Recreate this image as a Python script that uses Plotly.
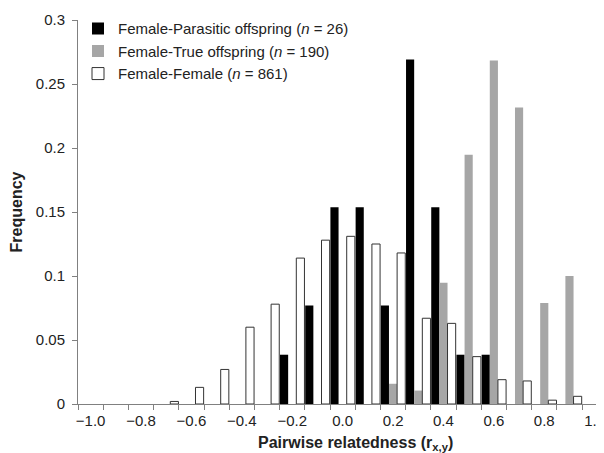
import plotly.graph_objects as go

categories = [-1.0, -0.9, -0.8, -0.7, -0.6, -0.5, -0.4, -0.3, -0.2, -0.1, 0.0,
              0.1, 0.2, 0.3, 0.4, 0.5, 0.6, 0.7, 0.8, 0.9, 1.0]
parasitic = [0, 0, 0, 0, 0, 0, 0, 0, 0.0385, 0.0769, 0.1538,
             0.1538, 0.0769, 0.2692, 0.1538, 0.0385, 0.0385, 0, 0, 0, 0]
true_off = [0, 0, 0, 0, 0, 0, 0, 0, 0, 0, 0,
            0, 0.0158, 0.0105, 0.0947, 0.1947, 0.2684, 0.2316, 0.0789, 0.1, 0]
female = [0, 0, 0, 0.002, 0.013, 0.027, 0.060, 0.078, 0.114, 0.128, 0.131,
          0.125, 0.118, 0.067, 0.063, 0.037, 0.019, 0.018, 0.003, 0.006, 0]
names = ["Female-Parasitic offspring (<i>n</i> = 26)",
         "Female-True offspring (<i>n</i> = 190)",
         "Female-Female (<i>n</i> = 861)"]
tick_vals = [-1.0, -0.8, -0.6, -0.4, -0.2, 0.0, 0.2, 0.4, 0.6, 0.8, 1.0]
tick_text = ["\u22121.0", "\u22120.8", "\u22120.6", "\u22120.4", "\u22120.2",
             "0.0", "0.2", "0.4", "0.6", "0.8", "1.0"]
y_ticks = [0, 0.05, 0.1, 0.15, 0.2, 0.25, 0.3]
y_text = ["0", "0.05", "0.1", "0.15", "0.2", "0.25", "0.3"]
boundaries = [round(c - 0.05, 2) for c in categories] + [1.05]


def drop_zero(vals):
    return [v if v else None for v in vals]


FONT = "Liberation Sans, Arial, sans-serif"
TXT = "#222222"

fig = go.Figure()
fig.add_trace(go.Bar(x=categories, y=drop_zero(parasitic), name=names[0],
                     marker=dict(color="#000000", line=dict(width=0))))
fig.add_trace(go.Bar(x=categories, y=drop_zero(true_off), name=names[1],
                     marker=dict(color="#a6a6a6", line=dict(width=0))))
fig.add_trace(go.Bar(x=categories, y=drop_zero(female), name=names[2],
                     marker=dict(color="#ffffff", line=dict(color="#333333", width=1))))

fig.update_layout(
    width=604, height=453,
    margin=dict(l=70, r=8, t=12, b=57, autoexpand=False),
    paper_bgcolor="white", plot_bgcolor="white",
    barmode="group", bargap=0.03, bargroupgap=0,
    font=dict(family=FONT, size=15, color=TXT),
    showlegend=True,
    legend=dict(x=0.0, y=1.02, xanchor="left", yanchor="top",
                bgcolor="rgba(0,0,0,0)", itemwidth=30,
                font=dict(family=FONT, size=15, color=TXT),
                tracegroupgap=0),
    xaxis=dict(range=[-1.05, 1.037], showgrid=False, zeroline=False,
               automargin=False,
               showline=True, linecolor="#808080", linewidth=1,
               tickmode="array", tickvals=tick_vals, ticktext=tick_text,
               ticks="", ticklen=5, ticklabelstandoff=3,
               ticklabeloverflow="allow",
               tickfont=dict(family=FONT, size=15, color=TXT),
               minor=dict(tickmode="array", tickvals=boundaries, ticks="outside",
                          ticklen=5, tickcolor="#808080", showgrid=False)),
    yaxis=dict(range=[0, 0.3], showgrid=False, zeroline=False,
               automargin=False,
               showline=True, linecolor="#808080", linewidth=1,
               tickmode="array", tickvals=y_ticks, ticktext=y_text,
               ticks="outside", ticklen=5, tickcolor="#808080",
               ticklabelstandoff=4,
               tickfont=dict(family=FONT, size=15, color=TXT),
               title=dict(text="<b>Frequency</b>", standoff=10,
                          font=dict(family=FONT, size=16, color=TXT))),
)
fig.add_annotation(text="<b>Pairwise relatedness (r<sub>x,y</sub>)</b>",
                   xref="paper", yref="paper",
                   x=(355 - 78) / 526, y=-0.072, yanchor="top", xanchor="center",
                   showarrow=False,
                   font=dict(family=FONT, size=16, color=TXT))

fig.write_html("out.html")
